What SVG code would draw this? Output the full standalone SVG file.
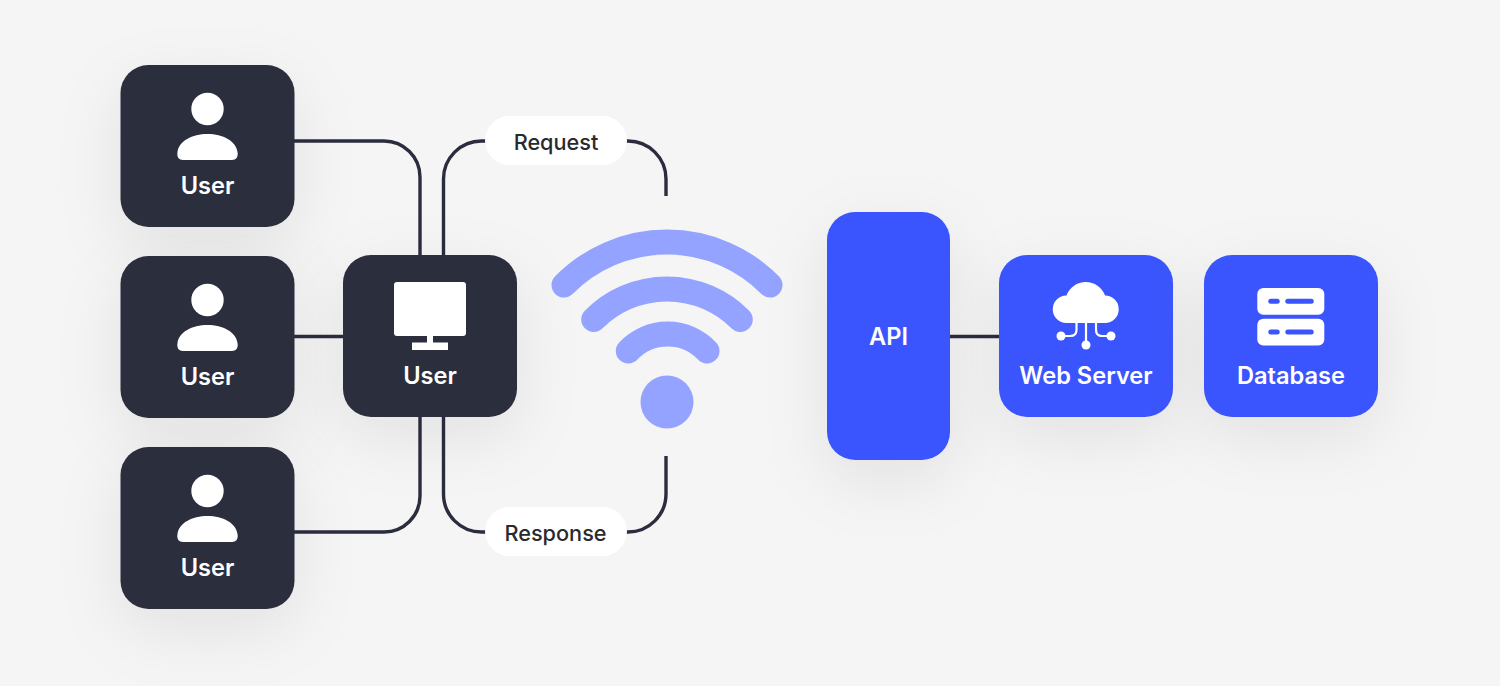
<svg xmlns="http://www.w3.org/2000/svg" width="1500" height="686" viewBox="0 0 1500 686">
<style>
.dark{fill:#2b2d3e}
.blue{fill:#3a55fe}
.wifi{fill:none;stroke:#94a3ff;stroke-width:25;stroke-linecap:round}
.conn{fill:none;stroke:#2b2d3e;stroke-width:3.4}
.lbl{font-family:Inter,"Liberation Sans",sans-serif;font-weight:600;font-size:23.6px;fill:#fff;text-anchor:middle}
.pilltext{font-family:Inter,"Liberation Sans",sans-serif;font-weight:500;font-size:21.7px;fill:#2a2a2e;text-anchor:middle}
.ico{fill:#fff}
</style>
<defs>
<filter id="sh" x="-60%" y="-60%" width="220%" height="220%"><feDropShadow dx="0" dy="20" stdDeviation="32" flood-color="#000" flood-opacity="0.08"/></filter>
<g id="person"><circle cx="207.5" cy="109" r="16.2"/><path d="M177.500 152C179 141 192 134 207.500 134C223 134 236 141 237.500 152C238.500 157 236 160 232 160H183C179 160 176.500 157 177.500 152Z"/></g>
</defs>
<rect width="1500" height="686" fill="#f5f5f5"/>
<g id="connectors" class="conn">
<path d="M294 141H384A36 36 0 0 1 420 177V256"/>
<path d="M294 336.500H344"/>
<path d="M294 532H384A36 36 0 0 0 420 496V416"/>
<path d="M443.500 256V179A38 38 0 0 1 481.500 141H486"/>
<path d="M626 141H628A38 38 0 0 1 666 179V196"/>
<path d="M443.500 416V494A38 38 0 0 0 481.500 532H486"/>
<path d="M626 532H628A38 38 0 0 0 666 494V456"/>
<path d="M949 336.500H1000"/>
</g>
<g id="user1"><rect class="dark" filter="url(#sh)" x="120.500" y="65" width="174" height="162" rx="28"/><use href="#person" class="ico"/><text class="lbl" x="207.500" y="194">User</text></g>
<g id="user2"><rect class="dark" filter="url(#sh)" x="120.500" y="256" width="174" height="162" rx="28"/><use href="#person" class="ico" y="191"/><text class="lbl" x="207.500" y="385">User</text></g>
<g id="user3"><rect class="dark" filter="url(#sh)" x="120.500" y="447" width="174" height="162" rx="28"/><use href="#person" class="ico" y="382"/><text class="lbl" x="207.500" y="576">User</text></g>
<g id="client"><rect class="dark" filter="url(#sh)" x="343" y="255" width="174" height="162" rx="28"/>
<path class="ico" d="M397 282H463Q466 282 466 285V333Q466 336 463 336H433V342.500H448V350H412V342.500H427V336H397Q394 336 394 333V285Q394 282 397 282Z"/>
<text class="lbl" x="430" y="384">User</text></g>
<g id="request"><rect x="485" y="116" width="142" height="49" rx="24.500" fill="#fff"/><text class="pilltext" x="556" y="149.500">Request</text></g>
<g id="response"><rect x="485" y="507" width="142" height="49" rx="24.500" fill="#fff"/><text class="pilltext" x="555.500" y="540.500">Response</text></g>
<g id="wifi"><path class="wifi" d="M564 285A145 145 0 0 1 770 285"/><path class="wifi" d="M593.700 319.500A103.300 103.300 0 0 1 740.300 319.500"/><path class="wifi" d="M628.300 351A54 54 0 0 1 707 351"/><circle cx="667" cy="402" r="26.500" fill="#94a3ff"/></g>
<g id="api"><rect class="blue" filter="url(#sh)" x="827" y="212" width="123" height="248" rx="28"/><text class="lbl" x="888.500" y="345">API</text></g>
<g id="webserver"><rect class="blue" filter="url(#sh)" x="999" y="255" width="174" height="162" rx="28"/>
<path class="ico" d="M1066.500 323A13.750 13.750 0 0 1 1066.500 295.500A20.500 20.500 0 0 1 1105 295.500A13.750 13.750 0 0 1 1105 323Z"/>
<path d="M1086 322V345M1076.500 322V330Q1076.500 336 1070 336H1061M1096 322V330Q1096 336 1102 336H1111" fill="none" stroke="#fff" stroke-width="2.200"/>
<circle class="ico" cx="1061" cy="336" r="4.500"/><circle class="ico" cx="1086" cy="345" r="4.500"/><circle class="ico" cx="1111" cy="336" r="4.500"/>
<text class="lbl" x="1086" y="384">Web Server</text></g>
<g id="database"><rect class="blue" filter="url(#sh)" x="1204" y="255" width="174" height="162" rx="28"/>
<rect class="ico" x="1257.300" y="288" width="67" height="26.700" rx="6"/><rect class="ico" x="1257.300" y="318.700" width="67" height="26.700" rx="6"/>
<rect class="blue" x="1268.300" y="298.700" width="11.400" height="5" rx="2.500"/><rect class="blue" x="1285.300" y="298.700" width="28.400" height="5" rx="2.500"/>
<rect class="blue" x="1268.300" y="329.500" width="11.400" height="5" rx="2.500"/><rect class="blue" x="1285.300" y="329.500" width="28.400" height="5" rx="2.500"/>
<text class="lbl" x="1291" y="384">Database</text></g>
</svg>
